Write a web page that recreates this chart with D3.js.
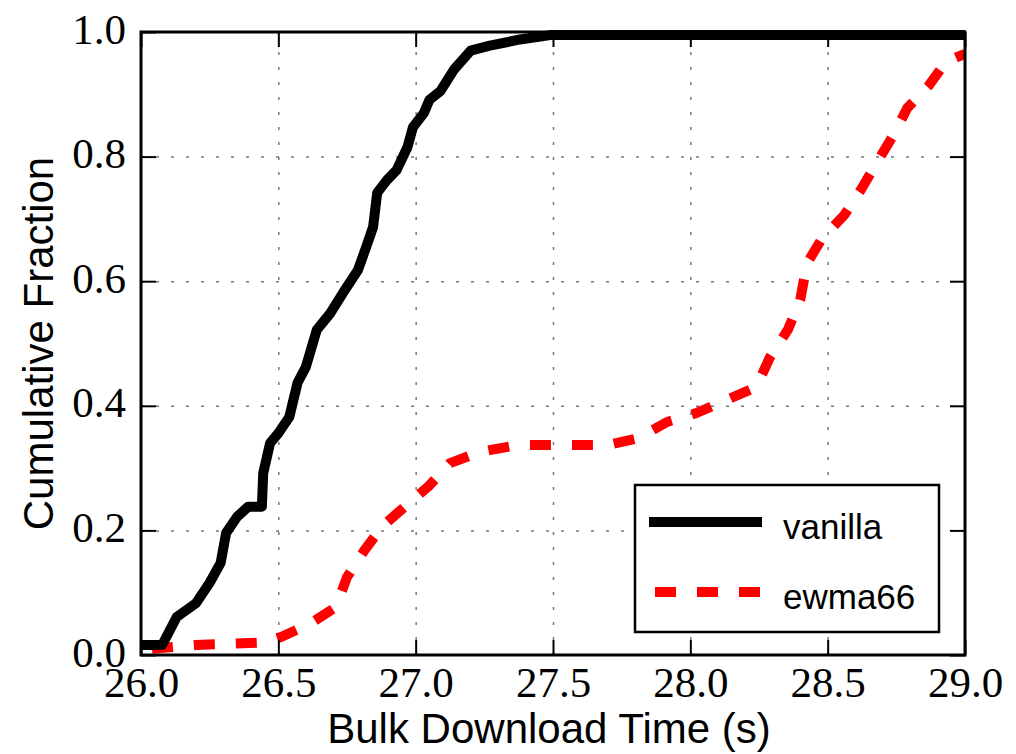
<!DOCTYPE html>
<html lang="en">
<head>
<meta charset="UTF-8">
<title>Bulk Download Time CDF</title>
<script src="https://d3js.org/d3.v7.min.js"></script>
<style>
    body {
        margin: 0;
        background: #fff;
    }
    .tick text {
        font-family: "Liberation Serif", "Times New Roman", serif;
        font-size: 43px;
        fill: #000;
    }
    .axis-title {
        font-family: "Liberation Sans", Arial, sans-serif;
        font-size: 42px;
        fill: #000;
    }
    .legend-text {
        font-family: "Liberation Sans", Arial, sans-serif;
        font-size: 35px;
        fill: #000;
    }
</style>
</head>
<body>
<div id="chart"></div>
<script>
    // tick values
    const xTicks = [26.0, 26.5, 27.0, 27.5, 28.0, 28.5, 29.0];
    const yTicks = [0.0, 0.2, 0.4, 0.6, 0.8, 1.0];

    // vanilla CDF
    const vanillaTime = [26.0, 26.077, 26.13, 26.20, 26.25, 26.29, 26.31, 26.35, 26.39, 26.44,
        26.445, 26.47, 26.50, 26.54, 26.57, 26.60, 26.64, 26.69, 26.735, 26.79,
        26.82, 26.845, 26.86, 26.895, 26.93, 26.97, 26.99, 27.03, 27.05, 27.09,
        27.14, 27.20, 27.27, 27.38, 27.49, 29.0];
    const vanillaFrac = [0.016, 0.016, 0.061, 0.083, 0.116, 0.148, 0.196, 0.222, 0.238, 0.238,
        0.292, 0.340, 0.356, 0.382, 0.437, 0.462, 0.522, 0.549, 0.581, 0.618,
        0.655, 0.687, 0.742, 0.762, 0.778, 0.815, 0.847, 0.870, 0.891, 0.905,
        0.940, 0.970, 0.978, 0.988, 0.995, 0.995];

    // ewma66 CDF
    const ewmaTime = [26.04, 26.20, 26.45, 26.51, 26.615, 26.71, 26.75, 26.815, 26.88, 26.96,
        27.045, 27.125, 27.235, 27.37, 27.70, 27.81, 27.915, 28.02, 28.13, 28.24,
        28.29, 28.355, 28.40, 28.425, 28.48, 28.56, 28.62, 28.68, 28.74, 28.79,
        28.87, 28.93, 29.0];
    const ewmaFrac = [0.010, 0.016, 0.020, 0.029, 0.050, 0.077, 0.125, 0.169, 0.207, 0.238,
        0.270, 0.308, 0.326, 0.337, 0.337, 0.348, 0.374, 0.388, 0.409, 0.430,
        0.478, 0.522, 0.570, 0.629, 0.669, 0.706, 0.746, 0.791, 0.835, 0.878,
        0.915, 0.952, 0.965];

    const seriesNames = ["vanilla", "ewma66"];
    const seriesColors = ["#000000", "#ff0000"];

    var margin = {top: 32, right: 51, bottom: 99, left: 141},
        width = 1016 - margin.left - margin.right,
        height = 754 - margin.top - margin.bottom;

    const svg = d3.select("#chart")
        .append("svg")
        .attr("width", 1016)
        .attr("height", 754);

    const g = svg.append("g")
        .attr("transform", "translate(" + margin.left + "," + margin.top + ")");

    const x = d3.scaleLinear().domain([26, 29]).range([0, width]);
    const y = d3.scaleLinear().domain([0, 1]).range([height, 0]);

    // dotted grid
    const gridX = g.append("g")
        .attr("transform", "translate(0," + height + ")")
        .call(d3.axisBottom(x).tickValues(xTicks.slice(1, -1)).tickSize(-height).tickFormat(""));
    const gridY = g.append("g")
        .call(d3.axisLeft(y).tickValues(yTicks.slice(1, -1)).tickSize(-width).tickFormat(""));
    [gridX, gridY].forEach(a => {
        a.select(".domain").remove();
        a.selectAll("line")
            .attr("stroke", "#777")
            .attr("stroke-width", 1.5)
            .attr("stroke-dasharray", "3,12");
    });

    // lines
    g.append("clipPath").attr("id", "clip")
        .append("rect")
        .attr("x", 0).attr("y", -6)
        .attr("width", width).attr("height", height + 6);

    const line = d3.line().x(d => x(d[0])).y(d => y(d[1]));

    g.append("path")
        .datum(d3.zip(ewmaTime, ewmaFrac))
        .attr("clip-path", "url(#clip)")
        .attr("fill", "none")
        .attr("stroke", seriesColors[1])
        .attr("stroke-width", 10)
        .attr("stroke-dasharray", "21,21")
        .attr("stroke-linejoin", "round")
        .attr("d", line);

    g.append("path")
        .datum(d3.zip(vanillaTime, vanillaFrac))
        .attr("clip-path", "url(#clip)")
        .attr("fill", "none")
        .attr("stroke", seriesColors[0])
        .attr("stroke-width", 10)
        .attr("stroke-linejoin", "round")
        .attr("d", line);

    // axes with inward ticks
    const xAxis = g.append("g")
        .attr("transform", "translate(0," + height + ")")
        .call(d3.axisBottom(x).tickValues(xTicks).tickSize(-15).tickPadding(11.5).tickFormat(d3.format(".1f")));
    const yAxis = g.append("g")
        .call(d3.axisLeft(y).tickValues(yTicks).tickSize(-15).tickPadding(15).tickFormat(d3.format(".1f")));
    yAxis.selectAll("text").attr("dy", "0.26em");
    const topAxis = g.append("g")
        .call(d3.axisTop(x).tickValues(xTicks).tickSize(-15).tickFormat(""));
    const rightAxis = g.append("g")
        .attr("transform", "translate(" + width + ",0)")
        .call(d3.axisRight(y).tickValues(yTicks).tickSize(-15).tickFormat(""));
    [xAxis, yAxis, topAxis, rightAxis].forEach(a => {
        a.select(".domain").remove();
        a.selectAll("line").attr("stroke", "#000").attr("stroke-width", 2);
    });

    g.append("rect")
        .attr("width", width)
        .attr("height", height)
        .attr("fill", "none")
        .attr("stroke", "#000")
        .attr("stroke-width", 3);

    // axis titles
    g.append("text")
        .attr("class", "axis-title")
        .attr("x", width / 2 - 4)
        .attr("y", 711)
        .attr("text-anchor", "middle")
        .text("Bulk Download Time (s)");

    g.append("text")
        .attr("class", "axis-title")
        .attr("transform", "translate(-88," + (height / 2) + ") rotate(-90)")
        .attr("text-anchor", "middle")
        .text("Cumulative Fraction");

    // legend
    const legend = g.append("g").attr("transform", "translate(494,453)");
    legend.append("rect")
        .attr("width", 304)
        .attr("height", 147)
        .attr("fill", "#fff")
        .attr("stroke", "#000")
        .attr("stroke-width", 2.5);

    seriesNames.forEach((name, i) => {
        const ly = 37 + i * 70;
        legend.append("line")
            .attr("x1", 14).attr("x2", 127)
            .attr("y1", ly).attr("y2", ly)
            .attr("stroke", seriesColors[i])
            .attr("stroke-width", 10)
            .attr("stroke-dasharray", i === 1 ? "21,21" : null)
            .attr("stroke-dashoffset", i === 1 ? -6 : null);
        legend.append("text")
            .attr("class", "legend-text")
            .attr("x", 148)
            .attr("y", ly + 17)
            .text(name);
    });
</script>
</body>
</html>
